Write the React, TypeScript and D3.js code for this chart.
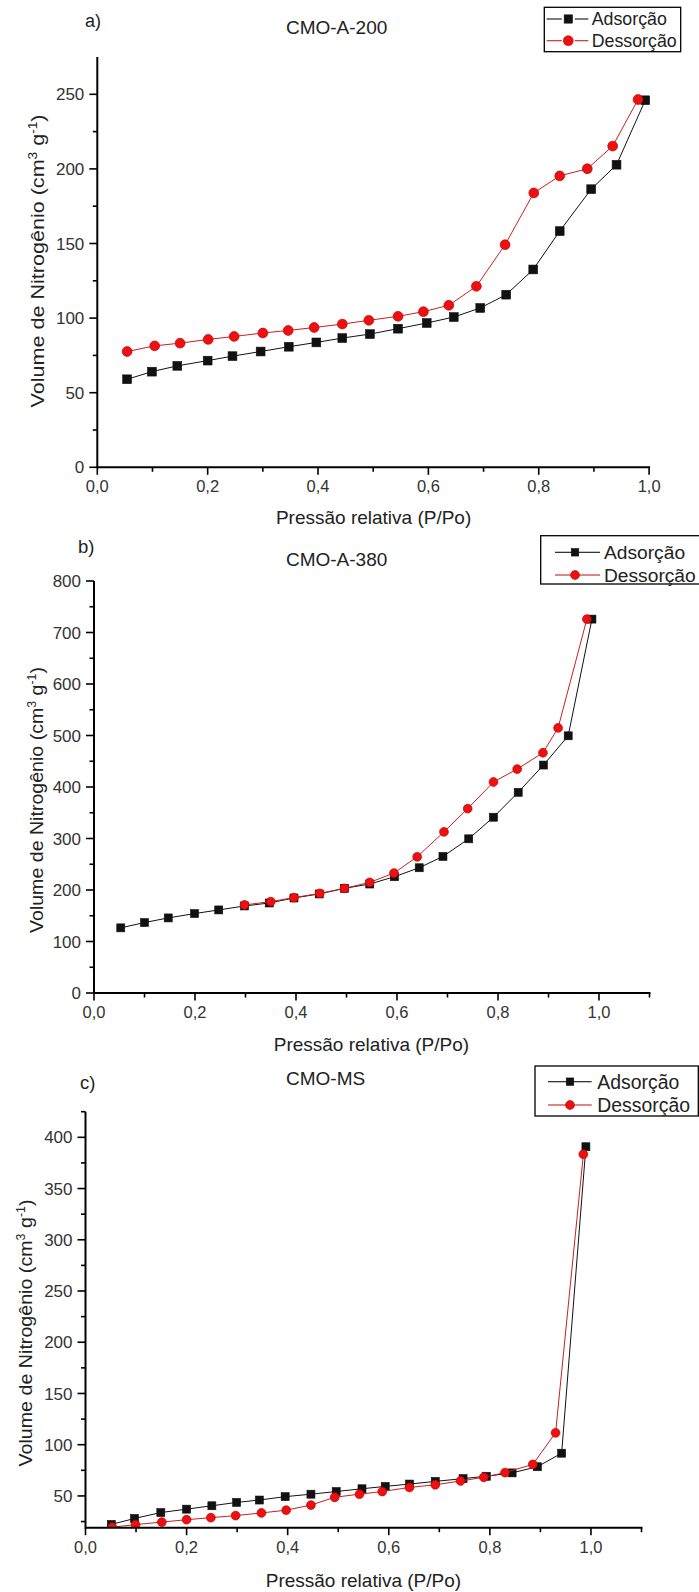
import React from 'react';
import * as d3 from 'd3';

const FONT = '"Liberation Sans", Arial, Helvetica, sans-serif';

// ---------- Data (relative pressure P/Po, volume cm3 g-1) ----------
// a) CMO-A-200
const pA_ads = [0.054, 0.099, 0.145, 0.200, 0.245, 0.296, 0.347, 0.397, 0.444, 0.494, 0.545, 0.597, 0.646, 0.694, 0.741, 0.790, 0.838, 0.895, 0.941, 0.993];
const vA_ads = [59.0, 64.1, 68.0, 71.5, 74.5, 77.6, 80.8, 83.7, 86.6, 89.3, 92.9, 96.7, 100.7, 106.8, 115.7, 132.6, 158.3, 186.4, 202.8, 246.0];
const pA_des = [0.054, 0.104, 0.150, 0.201, 0.248, 0.300, 0.346, 0.393, 0.444, 0.492, 0.545, 0.591, 0.637, 0.687, 0.739, 0.791, 0.838, 0.888, 0.934, 0.980];
const vA_des = [77.6, 81.4, 83.2, 85.7, 87.7, 90.0, 91.7, 93.7, 96.0, 98.5, 101.2, 104.3, 108.6, 121.3, 149.2, 183.9, 195.3, 200.1, 215.3, 246.5];

// b) CMO-A-380
const pB_ads = [0.053, 0.100, 0.147, 0.199, 0.247, 0.298, 0.347, 0.396, 0.446, 0.496, 0.546, 0.595, 0.644, 0.691, 0.742, 0.791, 0.840, 0.890, 0.939, 0.986];
const vB_ads = [126.5, 136.8, 145.8, 154.2, 161.3, 169.0, 174.8, 184.5, 192.3, 203.2, 211.6, 225.8, 243.2, 265.2, 299.4, 341.3, 389.7, 442.6, 499.4, 726];
const pB_des = [0.298, 0.350, 0.396, 0.447, 0.496, 0.546, 0.594, 0.640, 0.693, 0.740, 0.791, 0.838, 0.889, 0.919, 0.976];
const vB_des = [171.0, 177.4, 185.2, 193.5, 203.2, 214.8, 232.9, 264.5, 312.9, 358.0, 409.7, 434.8, 466.5, 514.8, 726];

// c) CMO-MS
const pC_ads = [0.051, 0.097, 0.149, 0.200, 0.250, 0.299, 0.344, 0.395, 0.446, 0.496, 0.547, 0.593, 0.641, 0.692, 0.747, 0.793, 0.844, 0.894, 0.942, 0.990];
const vC_ads = [22.2, 28.0, 33.8, 37.1, 40.4, 43.7, 46.0, 49.3, 51.7, 54.3, 57.0, 59.3, 61.6, 64.2, 66.9, 69.2, 72.5, 78.5, 91.7, 390.8];
const pC_des = [0.053, 0.099, 0.151, 0.200, 0.248, 0.297, 0.348, 0.397, 0.446, 0.493, 0.542, 0.587, 0.641, 0.692, 0.742, 0.788, 0.830, 0.885, 0.930, 0.985];
const vC_des = [19.5, 22.0, 24.5, 26.8, 28.8, 30.8, 33.4, 36.1, 41.1, 48.7, 51.7, 54.3, 58.3, 60.9, 64.6, 68.2, 72.8, 80.8, 111.6, 383.5];

// ---------- Labels ----------
const panelLetters = ['a)', 'b)', 'c)'];
const panelTitles = ['CMO-A-200', 'CMO-A-380', 'CMO-MS'];
const seriesNames = ['Adsorção', 'Dessorção'];
const xTitle = 'Pressão relativa (P/Po)';

const xMajorA = [0, 0.2, 0.4, 0.6, 0.8, 1.0];
const xMinorA = [0.1, 0.3, 0.5, 0.7, 0.9];
const xMajorBC = [0, 0.2, 0.4, 0.6, 0.8, 1.0];
const xMinorBC = [0.1, 0.3, 0.5, 0.7, 0.9, 1.1];
const yMajorA = [0, 50, 100, 150, 200, 250];
const yMinorA = [25, 75, 125, 175, 225];
const yMajorB = [0, 100, 200, 300, 400, 500, 600, 700, 800];
const yMinorB = [50, 150, 250, 350, 450, 550, 650, 750];
const yMajorC = [50, 100, 150, 200, 250, 300, 350, 400];
const yMinorC = [25, 75, 125, 175, 225, 275, 325, 375, 425];

const BLACK = '#111';
const RED_LINE = '#c8201e';
const RED_FILL = '#ee1010';

type Cfg = {
  id: string;
  letter: string; letterPos: [number, number]; letterSize: number;
  title: string; titlePos: [number, number];
  xDomain: [number, number]; xRange: [number, number];
  yDomain: [number, number]; yRange: [number, number];
  xMajor: number[]; xMinor: number[]; yMajor: number[]; yMinor: number[];
  xTitleY: number; xTitleX: number;
  yLabel: [number, number, number];
  ads: [number[], number[]]; des: [number[], number[]];
  sq: number; cr: number;
  legend: { box: [number, number, number, number]; rows: [number, number]; lx: [number, number]; mx: number; tx: number; fs: number; gap: boolean };
};

const cfgs: Cfg[] = [
  {
    id: 'a', letter: panelLetters[0], letterPos: [85, 27], letterSize: 18,
    title: panelTitles[0], titlePos: [336.6, 34],
    xDomain: [0, 1.0], xRange: [97.3, 649.1], yDomain: [0, 275], yRange: [467.3, 57],
    xMajor: xMajorA, xMinor: xMinorA, yMajor: yMajorA, yMinor: yMinorA,
    xTitleY: 523.5, xTitleX: 373.6, yLabel: [37, 261, 293],
    ads: [pA_ads, vA_ads], des: [pA_des, vA_des], sq: 8.8, cr: 4.9,
    legend: { box: [544.3, 7.3, 136.4, 44.4], rows: [19, 40.7], lx: [546.7, 588.3], mx: 568.3, tx: 591.7, fs: 17.8, gap: true },
  },
  {
    id: 'b', letter: panelLetters[1], letterPos: [78, 553], letterSize: 18.5,
    title: panelTitles[1], titlePos: [336.6, 565.7],
    xDomain: [0, 1.1], xRange: [94, 649.5], yDomain: [0, 800], yRange: [993, 581],
    xMajor: xMajorBC, xMinor: xMinorBC, yMajor: yMajorB, yMinor: yMinorB,
    xTitleY: 1051, xTitleX: 371.4, yLabel: [36, 800, 266],
    ads: [pB_ads, vB_ads], des: [pB_des, vB_des], sq: 8, cr: 4.4,
    legend: { box: [540.7, 535.7, 162, 48.3], rows: [552.3, 575], lx: [555, 600], mx: 575, tx: 604, fs: 19.2, gap: false },
  },
  {
    id: 'c', letter: panelLetters[2], letterPos: [80, 1089], letterSize: 18.5,
    title: panelTitles[2], titlePos: [325.6, 1085],
    xDomain: [0, 1.1], xRange: [85.5, 641.5], yDomain: [19, 425], yRange: [1527.7, 1111.7],
    xMajor: xMajorBC, xMinor: xMinorBC, yMajor: yMajorC, yMinor: yMinorC,
    xTitleY: 1586.5, xTitleX: 363.4, yLabel: [25, 1333, 267],
    ads: [pC_ads, vC_ads], des: [pC_des, vC_des], sq: 8, cr: 4.4,
    legend: { box: [535, 1066, 163.3, 50], rows: [1081.7, 1105], lx: [548, 591.7], mx: 570, tx: 597.3, fs: 19.4, gap: false },
  },
];

const fmtX = (v: number) => v.toFixed(1).replace('.', ',');

function Square({ x, y, s }: { x: number; y: number; s: number }) {
  return <rect x={x - s / 2} y={y - s / 2} width={s} height={s} fill={BLACK} stroke={BLACK} strokeWidth={0.6} />;
}
function Circle({ x, y, r }: { x: number; y: number; r: number }) {
  return <circle cx={x} cy={y} r={r} fill={RED_FILL} stroke="#c40000" strokeWidth={0.7} />;
}

function Panel({ c }: { c: Cfg }) {
  const x = d3.scaleLinear().domain(c.xDomain).range(c.xRange);
  const y = d3.scaleLinear().domain(c.yDomain).range(c.yRange);
  const line = d3.line<[number, number]>().x((d) => x(d[0])).y((d) => y(d[1]));
  const adsPts = c.ads[0].map((p, i) => [p, c.ads[1][i]] as [number, number]);
  const desPts = c.des[0].map((p, i) => [p, c.des[1][i]] as [number, number]);
  const x0 = c.xRange[0];
  const yb = c.yRange[0];
  const clipId = 'clip-' + c.id;
  const L = c.legend;
  const [lxC, lyC, lLen] = c.yLabel;
  return (
    <g>
      <defs>
        <clipPath id={clipId}>
          <rect x={x0 - 20} y={c.yRange[1] - 40} width={c.xRange[1] - x0 + 60} height={yb - c.yRange[1] + 40} />
        </clipPath>
      </defs>
      <text x={c.letterPos[0]} y={c.letterPos[1]} fontSize={c.letterSize} fill="#222">{c.letter}</text>
      <text x={c.titlePos[0]} y={c.titlePos[1]} fontSize={19} textAnchor="middle" fill="#222">{c.title}</text>

      {/* data */}
      <g clipPath={`url(#${clipId})`}>
        <path d={line(adsPts) || ''} fill="none" stroke={BLACK} strokeWidth={1} />
        {adsPts.map((d, i) => <Square key={'s' + i} x={x(d[0])} y={y(d[1])} s={c.sq} />)}
        <path d={line(desPts) || ''} fill="none" stroke={RED_LINE} strokeWidth={1} />
        {desPts.map((d, i) => <Circle key={'c' + i} x={x(d[0])} y={y(d[1])} r={c.cr} />)}
      </g>

      {/* axes */}
      <line x1={x0} x2={c.xRange[1] + 1} y1={yb} y2={yb} stroke="#000" strokeWidth={2} />
      <line x1={x0} x2={x0} y1={c.yRange[1]} y2={yb + 1} stroke="#000" strokeWidth={2} />
      {c.xMajor.map((v) => (
        <g key={'xm' + v}>
          <line x1={x(v)} x2={x(v)} y1={yb} y2={yb + 7.5} stroke="#000" strokeWidth={1.6} />
          <text x={x(v)} y={yb + 25} fontSize={16.5} textAnchor="middle" fill="#333">{fmtX(v)}</text>
        </g>
      ))}
      {c.xMinor.map((v) => (
        <line key={'xn' + v} x1={x(v)} x2={x(v)} y1={yb} y2={yb + 4.5} stroke="#000" strokeWidth={1.6} />
      ))}
      {c.yMajor.map((v) => (
        <g key={'ym' + v}>
          <line x1={x0 - 8} x2={x0} y1={y(v)} y2={y(v)} stroke="#000" strokeWidth={1.6} />
          <text x={x0 - 13} y={y(v)} dy="0.36em" fontSize={17} textAnchor="end" fill="#333">{v}</text>
        </g>
      ))}
      {c.yMinor.map((v) => (
        <line key={'yn' + v} x1={x0 - 4.5} x2={x0} y1={y(v)} y2={y(v)} stroke="#000" strokeWidth={1.6} />
      ))}

      {/* axis titles */}
      <text x={c.xTitleX} y={c.xTitleY} fontSize={19} textAnchor="middle" fill="#222">{xTitle}</text>
      <g transform={`translate(${lxC},${lyC}) rotate(-90)`}>
        <text x={0} y={0} dy="0.35em" fontSize={19} textAnchor="middle" fill="#222"
          textLength={lLen} lengthAdjust="spacingAndGlyphs">
          Volume de Nitrogênio (cm<tspan dy={-7} fontSize={12}>3</tspan>
          <tspan dy={7}> g</tspan><tspan dy={-7} fontSize={12}>-1</tspan><tspan dy={7}>)</tspan>
        </text>
      </g>

      {/* legend */}
      <rect x={L.box[0]} y={L.box[1]} width={L.box[2]} height={L.box[3]} fill="#fff" stroke="#000" strokeWidth={1.3} />
      {[0, 1].map((i) => {
        const ry = L.rows[i];
        const col = i === 0 ? BLACK : RED_LINE;
        const g = L.gap ? 6.5 : 0;
        return (
          <g key={'lg' + i}>
            <line x1={L.lx[0]} x2={L.mx - g} y1={ry} y2={ry} stroke={col} strokeWidth={1.1} />
            <line x1={L.mx + g} x2={L.lx[1]} y1={ry} y2={ry} stroke={col} strokeWidth={1.1} />
            {i === 0 ? <Square x={L.mx} y={ry} s={c.sq - 0.5} /> : <Circle x={L.mx} y={ry} r={c.cr} />}
            <text x={L.tx} y={ry} dy="0.36em" fontSize={L.fs} fill="#222">{seriesNames[i]}</text>
          </g>
        );
      })}
    </g>
  );
}

export default function App() {
  return (
    <svg width={699} height={1592} viewBox="0 0 699 1592"
      style={{ position: 'absolute', left: 0, top: 0, display: 'block', background: '#fff', fontFamily: FONT }}>
      <rect x={0} y={0} width={699} height={1592} fill="#fff" />
      {cfgs.map((c) => <Panel key={c.id} c={c} />)}
    </svg>
  );
}
